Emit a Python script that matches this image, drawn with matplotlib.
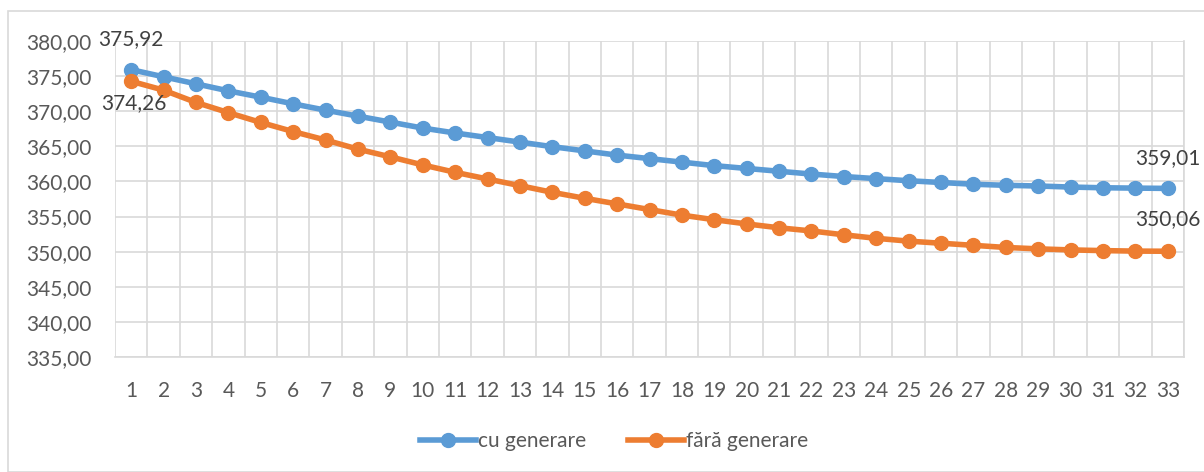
import numpy as np
import matplotlib.pyplot as plt
from matplotlib.patches import Rectangle

plt.rcParams['font.family'] = ['Lato', 'DejaVu Sans']

categories = list(range(1, 34))
cu_generare = [375.92, 374.90, 373.90, 372.90, 372.00, 371.05, 370.15, 369.30, 368.45,
               367.60, 366.90, 366.25, 365.60, 364.95, 364.35, 363.75, 363.25, 362.75,
               362.25, 361.85, 361.45, 361.05, 360.70, 360.40, 360.10, 359.85, 359.60,
               359.45, 359.35, 359.20, 359.10, 359.05, 359.01]
fara_generare = [374.26, 373.00, 371.25, 369.80, 368.40, 367.10, 365.90, 364.60, 363.50,
                 362.35, 361.30, 360.35, 359.40, 358.45, 357.60, 356.80, 356.00, 355.20,
                 354.55, 353.95, 353.40, 352.95, 352.40, 351.90, 351.50, 351.20, 350.90,
                 350.60, 350.40, 350.25, 350.15, 350.08, 350.06]
y_ticks = np.arange(335, 381, 5)

blue = '#5B9BD5'
orange = '#ED7D31'
grid_c = '#D9D9D9'
text_c = '#595959'

fig = plt.figure(figsize=(12.04, 4.72), dpi=100)
fig.patches.append(Rectangle((8 / 1204, 0), 1.0, 1 - 11 / 472, transform=fig.transFigure,
                             fill=False, edgecolor=grid_c, linewidth=1.2))
ax = fig.add_axes([115 / 1204, 1 - 357 / 472, (1184 - 115) / 1204, (357 - 41) / 472])

ax.plot(categories, cu_generare, color=blue, linewidth=4, marker='o', markersize=10,
        label='cu generare')
ax.plot(categories, fara_generare, color=orange, linewidth=4, marker='o', markersize=10,
        label='fără generare')

def fmt(v):
    return f'{v:.2f}'.replace('.', ',')

ax.annotate(fmt(cu_generare[0]), (categories[0], cu_generare[0]), xytext=(0, 22),
            textcoords='offset points', ha='center', va='center', fontsize=15, color='#404040')
ax.annotate(fmt(fara_generare[0]), (categories[0], fara_generare[0]), xytext=(2, -16),
            textcoords='offset points', ha='center', va='center', fontsize=15, color='#404040')
ax.annotate(fmt(cu_generare[-1]), (categories[-1], cu_generare[-1]), xytext=(0, 22),
            textcoords='offset points', ha='center', va='center', fontsize=15, color='#404040')
ax.annotate(fmt(fara_generare[-1]), (categories[-1], fara_generare[-1]), xytext=(0, 23),
            textcoords='offset points', ha='center', va='center', fontsize=15, color='#404040')

ax.set_xlim(0.5, 33.5)
ax.set_ylim(335, 380)
ax.set_yticks(y_ticks)
ax.set_yticklabels([fmt(v) for v in y_ticks])
ax.set_xticks(categories)
ax.set_xticks(np.arange(0.5, 34, 1), minor=True)
ax.grid(True, which='minor', axis='x', color=grid_c, linewidth=1.2)
ax.grid(True, which='major', axis='y', color=grid_c, linewidth=1.2)
ax.set_axisbelow(True)
for s in ax.spines.values():
    s.set_visible(False)
ax.spines['bottom'].set_visible(True)
ax.spines['bottom'].set_color(grid_c)
ax.spines['bottom'].set_linewidth(1.2)
ax.spines['right'].set_visible(True)
ax.spines['right'].set_color(grid_c)
ax.spines['right'].set_linewidth(1.2)
ax.tick_params(axis='both', which='both', length=0, labelsize=15, colors=text_c)
ax.tick_params(axis='x', pad=17)
ax.tick_params(axis='y', pad=17)

fig.legend(loc='center', bbox_to_anchor=(614 / 1204, 1 - 441 / 472), ncol=2, frameon=False,
           fontsize=15, labelcolor=text_c, handlelength=2.7, handletextpad=0.1,
           columnspacing=2.0)

fig.savefig('out.png', dpi=100)
